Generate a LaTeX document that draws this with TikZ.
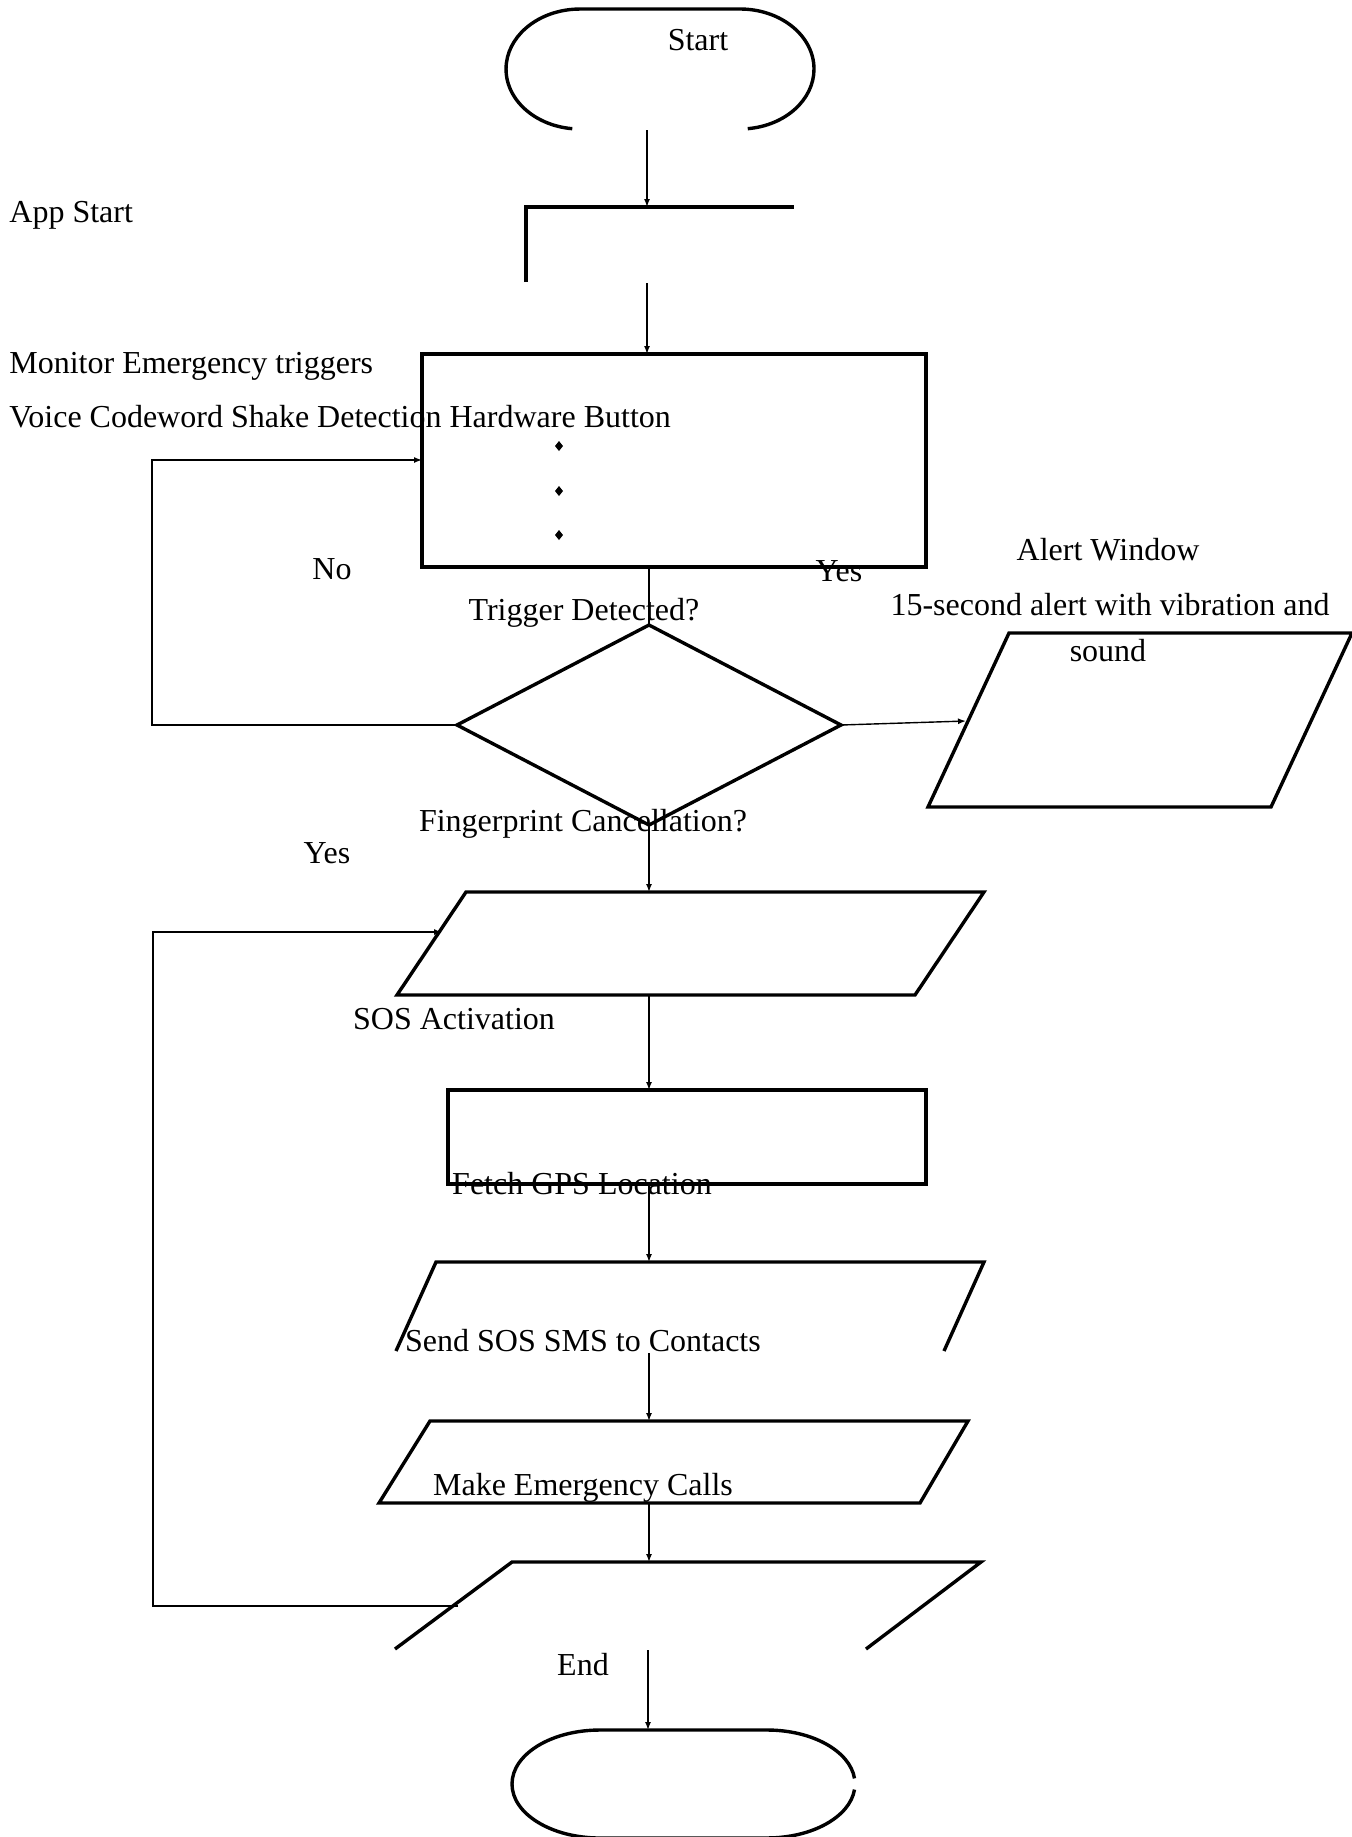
\documentclass[tikz,border=0pt]{standalone}
\usepackage{fontspec}
\setmainfont{Liberation Serif}
\usetikzlibrary{arrows.meta}

\begin{document}
\begin{tikzpicture}[x=0.5pt,y=-0.5pt,
    shp/.style={line width=1.7pt},
    con/.style={line width=0.7pt},
    arr/.style={con,-{Latex[length=4pt,width=3pt]}},
    lbl/.style={inner sep=0pt,font=\fontsize{16}{19}\selectfont}]
        \useasboundingbox (0,0) rectangle (1352,1837);
        \draw[shp] (572.3,128.7) arc[start angle=96,end angle=270,x radius=74,y radius=60]
        -- (740,9) arc[start angle=-90,end angle=84,x radius=74,y radius=60];
        \draw[shp] (526,282) -- (526,207) -- (794,207);
        \draw[shp] (422,354) rectangle (926,567);
        \foreach \y in {446,491,535}
        \fill (555,\y) -- ++(4,-5) -- ++(4,5) -- ++(-4,5) -- cycle;
        \coordinate (startout) at (647,130);
        \coordinate (appin) at (647,207);
        \coordinate (appout) at (647,283);
        \coordinate (monin) at (647,354);
        \coordinate (monloop) at (422,460);
        \coordinate (monout) at (649,567);
        \coordinate (dtop) at (649,625);
        \coordinate (dright) at (841,725);
        \coordinate (dbot) at (649,825);
        \coordinate (dleft) at (457,725);
        \coordinate (nocorner) at (152,460);
        \coordinate (alTL) at (1009,633);
        \coordinate (alTR) at (1352,633);
        \coordinate (alBR) at (1271,807);
        \coordinate (alBL) at (928,807);
        \coordinate (alin) at (966,721);
        \draw[shp] (dtop) -- (dright) -- (dbot) -- (dleft) -- cycle;
        \draw[shp] (alTL) -- (alTR) -- (alBR) -- (alBL) -- cycle;
        \draw[shp] (466,892) -- (984,892) -- (915,995) -- (397,995) -- cycle;
        \draw[shp] (448,1090) rectangle (926,1184);
        \draw[shp] (396,1351) -- (436,1262) -- (984,1262) -- (944,1351);
        \draw[shp] (430,1421) -- (968,1421) -- (920,1503) -- (379,1503) -- cycle;
        \draw[shp] (395,1649) -- (512,1562) -- (981,1562) -- (866,1649);
        \draw[shp] (854.5,1789.6) arc[start angle=6,end angle=90,x radius=88,y radius=54]
        -- (600,1838) arc[start angle=90,end angle=270,x radius=88,y radius=54]
        -- (767,1730) arc[start angle=270,end angle=354,x radius=88,y radius=54];
        \coordinate (sosin) at (649,892);
        \coordinate (sosloop) at (442,932);
        \coordinate (soscorner) at (153,932);
        \coordinate (sosout) at (649,995);
        \coordinate (gpsin) at (649,1090);
        \coordinate (gpsout) at (649,1184);
        \coordinate (smsin) at (649,1262);
        \coordinate (smsout) at (649,1353);
        \coordinate (callin) at (649,1421);
        \coordinate (callout) at (649,1503);
        \coordinate (endin) at (649,1562);
        \coordinate (endloop) at (458,1606);
        \coordinate (endout) at (648,1650);
        \coordinate (termin) at (648,1730);
        \draw[arr] (startout) -- (appin);
        \draw[arr] (appout) -- (monin);
        \draw[con] (monout) -- (dtop);
        \draw[arr] (dleft) -| (nocorner) -- (monloop);
        \draw[arr] (dright) -- (alin);
        \draw[arr] (dbot) -- (sosin);
        \draw[arr] (sosout) -- (gpsin);
        \draw[arr] (gpsout) -- (smsin);
        \draw[arr] (smsout) -- (callin);
        \draw[arr] (callout) -- (endin);
        \draw[arr] (endloop) -| (soscorner) -- (sosloop);
        \draw[arr] (endout) -- (termin);
        \node[lbl] (tstart) at (698,40) {Start};
        \node[lbl,anchor=west] (tapp) at (9,215) {App Start};
        \node[lbl,anchor=west] (tmon) at (9,366) {Monitor Emergency triggers};
        \node[lbl,anchor=west] (ttrig) at (9,417) {Voice Codeword Shake Detection Hardware Button};
        \node[lbl] (tno) at (332,569) {No};
        \node[lbl] (tyesa) at (839,571) {Yes};
        \node[lbl] (tdet) at (584,613) {Trigger Detected?};
        \node[lbl] (talert) at (1108,550) {Alert Window};
        \node[lbl] (tvib) at (1110,605) {15-second alert with vibration and};
        \node[lbl] (tsound) at (1108,651) {sound};
        \node[lbl] (tcan) at (583,824) {Fingerprint Cancellation?};
        \node[lbl] (tyesb) at (327,853) {Yes};
        \node[lbl] (tsos) at (454,1019) {SOS Activation};
        \node[lbl] (tgps) at (582,1184) {Fetch GPS Location};
        \node[lbl] (tsms) at (583,1341) {Send SOS SMS to Contacts};
        \node[lbl] (tcall) at (583,1488) {Make Emergency Calls};
        \node[lbl] (tend) at (583,1665) {End};
      \end{tikzpicture}
\end{document}
